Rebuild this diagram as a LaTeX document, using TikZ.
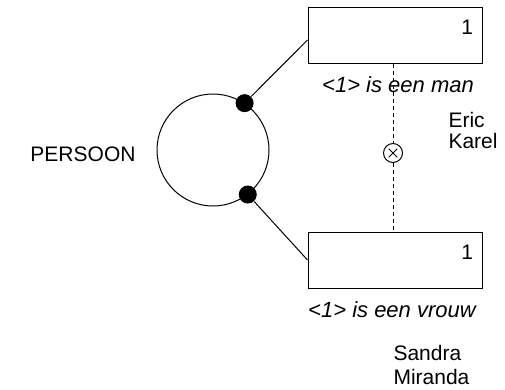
\documentclass[tikz,border=0pt]{standalone}
\usepackage{fontspec}
\setmainfont{Liberation Sans}
\usetikzlibrary{positioning,calc}
\def\rw{174pt}
\def\rh{56pt}
\tikzstyle{role}=[draw,rectangle,minimum width=\rw,minimum height=\rh,inner sep=0pt]
\tikzstyle{dot}=[circle,fill,inner sep=0pt,minimum size=18pt]
\tikzstyle{txt}=[inner sep=0pt,font=\fontsize{21}{24}\selectfont]
\tikzstyle{reading}=[txt,font=\fontsize{22}{24}\selectfont\itshape]
\newcommand{\newRole}[3]{\node[role](#1) at (#2) {};
  \node[txt,anchor=north east](#1nr)[#3] at ([xshift=-9pt,yshift=-13pt]#1.north east) {1};}
\begin{document}
\begin{tikzpicture}[x=1pt,y=-1pt,line width=1pt]
      \useasboundingbox (0,0) rectangle (505,389);
      % objecttype
      \node[draw,circle,minimum size=112pt,inner sep=0pt] (pers) at (213,150) {};
      \node[txt,anchor=base east] (persname) at (136,161.5) {PERSOON};
      \node[dot] (d1) at (pers.56) {};
      \node[dot] (d2) at (pers.-52) {};
      % rollen
      \newRole{man}{395,35}{}
      \newRole{vrouw}{395,260}{}
      \node[reading,below=13pt of man,xshift=3pt] (mantxt) {<1> is een man};
      \node[reading,below=13pt of vrouw,xshift=-3pt] (vrouwtxt) {<1> is een vrouw};
      \draw (d1) -- ([yshift=-5pt]man.west);
      \draw (d2) -- (vrouw.west);
      % exclusie
      \node[draw,circle,minimum size=19pt,inner sep=0pt] (xc) at (393,153) {};
      \draw ([shift={(45:6pt)}]xc.center) -- ([shift={(225:6pt)}]xc.center)
            ([shift={(135:6pt)}]xc.center) -- ([shift={(-45:6pt)}]xc.center);
      \draw[dashed,dash pattern=on 4pt off 3pt] (xc |- man.south) -- (xc.north);
      \draw[dashed,dash pattern=on 4pt off 3pt] (xc.south) -- (xc |- vrouw.north);
      % populatie
      \node[txt,align=left,anchor=north west,font=\fontsize{21}{21}\selectfont] (mannen) at (448,112) {Eric\\Karel};
      \node[txt,align=left,anchor=north west] (vrouwen) at (393,345) {Sandra\\Miranda};
    \end{tikzpicture}
\end{document}
